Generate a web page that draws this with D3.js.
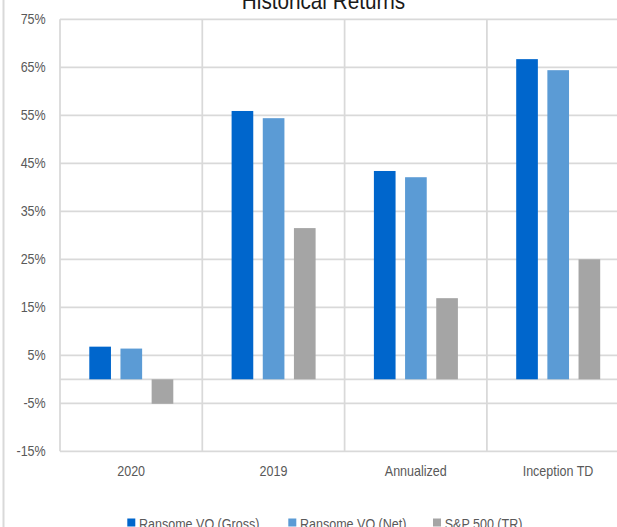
<!DOCTYPE html>
<html>
<head>
<meta charset="utf-8">
<script src="https://cdn.jsdelivr.net/npm/d3@7"></script>
<style>
  html, body { margin: 0; padding: 0; background: #fff; overflow: hidden; }
  svg { display: block; font-family: "Liberation Sans", Arial, sans-serif; }
</style>
</head>
<body>
<svg id="chart" width="617" height="527"></svg>
<script>
// Historical returns by period, in percent
const categories = ["2020", "2019", "Annualized", "Inception TD"];
const seriesNames = ["Ransome VQ (Gross)", "Ransome VQ (Net)", "S&P 500 (TR)"];
const grossValues = [6.8, 55.9, 43.4, 66.7];
const netValues   = [6.4, 54.4, 42.1, 64.4];
const spValues    = [-5.1, 31.5, 16.9, 25.0];
const yTicks = [-15, -5, 5, 15, 25, 35, 45, 55, 65, 75];
const colors = ["#0066cc", "#5b9bd5", "#a5a5a5"];

const seriesValues = [grossValues, netValues, spValues];

const svg = d3.select("#chart");
const plot = { left: 60, top: 19.3, bottom: 451.3, catWidth: 142.3 };
const squeeze = 0.87; // condensed text rendering

const x0 = d3.scaleBand()
  .domain(categories)
  .range([plot.left, plot.left + plot.catWidth * categories.length])
  .padding(0);

const x1 = d3.scaleBand()
  .domain(seriesNames)
  .range([29.3, 113.3])
  .paddingInner(0.305)
  .paddingOuter(0);

const y = d3.scaleLinear().domain([-15, 75]).range([plot.bottom, plot.top]);

// outer frame edge on the left
svg.append("line")
  .attr("x1", 3.5).attr("x2", 3.5).attr("y1", 0).attr("y2", 527)
  .attr("stroke", "#d9d9d9").attr("stroke-width", 2);

// title
svg.append("text")
  .attr("transform", `translate(323.5,9) scale(0.9,1)`)
  .attr("text-anchor", "middle")
  .attr("font-size", 23)
  .attr("fill", "#1a1a1a")
  .text("Historical Returns");

// horizontal gridlines
const grid = svg.append("g").attr("stroke", "#d9d9d9").attr("stroke-width", 1.75);
grid.selectAll("line.h")
  .data(yTicks)
  .join("line")
  .attr("class", "h")
  .attr("x1", plot.left).attr("x2", 617)
  .attr("y1", d => y(d)).attr("y2", d => y(d));

// zero axis line
grid.append("line")
  .attr("x1", plot.left).attr("x2", 617)
  .attr("y1", y(0)).attr("y2", y(0));

// vertical category separators
grid.selectAll("line.v")
  .data(d3.range(categories.length + 1))
  .join("line")
  .attr("class", "v")
  .attr("x1", i => plot.left + i * x0.bandwidth())
  .attr("x2", i => plot.left + i * x0.bandwidth())
  .attr("y1", y(75)).attr("y2", y(-15));

// y tick labels
svg.append("g").selectAll("text")
  .data(yTicks)
  .join("text")
  .attr("transform", d => `translate(45.7,${y(d)}) scale(${squeeze},1)`)
  .attr("dy", "0.36em")
  .attr("text-anchor", "end")
  .attr("font-size", 14.4)
  .attr("fill", "#595959")
  .text(d => d + "%");

// bars
const groups = svg.append("g").selectAll("g")
  .data(categories)
  .join("g")
  .attr("transform", c => `translate(${x0(c)},0)`);

groups.selectAll("rect")
  .data((c, ci) => seriesNames.map((s, si) => ({ s, si, v: seriesValues[si][ci] })))
  .join("rect")
  .attr("x", d => x1(d.s))
  .attr("width", x1.bandwidth())
  .attr("y", d => y(Math.max(0, d.v)))
  .attr("height", d => Math.abs(y(d.v) - y(0)))
  .attr("fill", d => colors[d.si]);

// category labels
svg.append("g").selectAll("text")
  .data(categories)
  .join("text")
  .attr("transform", c => `translate(${x0(c) + x0.bandwidth() / 2},471) scale(${squeeze},1)`)
  .attr("dy", "0.36em")
  .attr("text-anchor", "middle")
  .attr("font-size", 14.4)
  .attr("fill", "#595959")
  .text(c => c);

// legend
const legendX = [127.3, 288.3, 433];
const legend = svg.append("g").selectAll("g")
  .data(seriesNames)
  .join("g")
  .attr("transform", (s, i) => `translate(${legendX[i]},523.5)`);
legend.append("rect")
  .attr("x", 0).attr("y", -5).attr("width", 8).attr("height", 8)
  .attr("fill", (s, i) => colors[i]);
legend.append("text")
  .attr("transform", `translate(11.7,0) scale(${squeeze},1)`)
  .attr("dy", "0.36em")
  .attr("font-size", 14.4)
  .attr("fill", "#595959")
  .text(s => s);
</script>
</body>
</html>
